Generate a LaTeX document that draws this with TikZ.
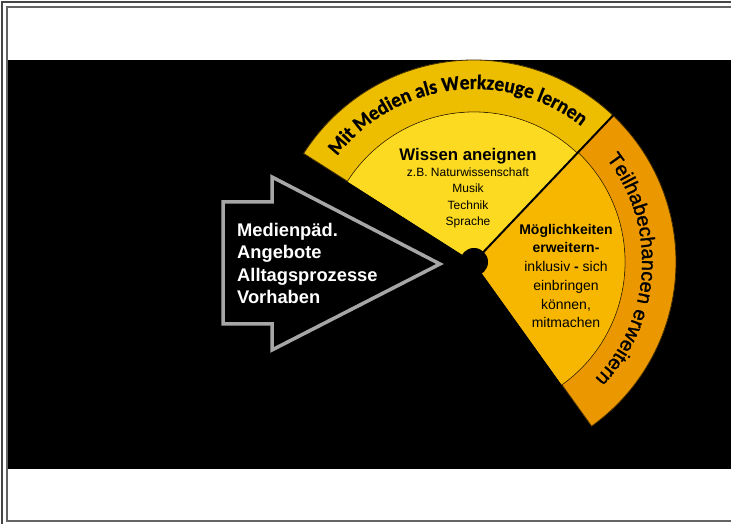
\documentclass[tikz,border=0pt]{standalone}
\usepackage{fontspec}
\newfontfamily\arialf{Liberation Sans}
\newfontfamily\arialheavy[FakeBold=1.2]{Liberation Sans}
\newfontfamily\calibf[FakeStretch=0.95,FakeBold=0.8]{Carlito}
\usetikzlibrary{decorations.text}
\definecolor{ringtop}{RGB}{237,190,0}
\definecolor{innertop}{RGB}{252,218,34}
\definecolor{ringright}{RGB}{235,152,0}
\definecolor{innerright}{RGB}{247,183,0}
\definecolor{ringedge}{RGB}{60,40,0}
\definecolor{arrowgrey}{RGB}{166,166,166}
\definecolor{framedark}{RGB}{70,70,70}
\definecolor{framegrey}{RGB}{100,100,100}
\tikzset{
  arrowtext/.style={font=\arialf\bfseries\fontsize{18.3}{22}\selectfont, text=white, anchor=base west, inner sep=0},
  headtext/.style={font=\arialf\bfseries\fontsize{16.8}{20}\selectfont, anchor=base, inner sep=0},
  smalltext/.style={font=\arialf\fontsize{12}{14}\selectfont, anchor=base, inner sep=0},
  boldmid/.style={font=\arialf\bfseries\fontsize{14}{16}\selectfont, anchor=base, inner sep=0},
  regmid/.style={font=\arialf\fontsize{14}{16}\selectfont, anchor=base, inner sep=0},
  ringline/.style={draw=ringedge, line width=0.8pt}
}
\begin{document}
\begin{tikzpicture}[x=1pt,y=1pt]
\useasboundingbox (0,0) rectangle (731,524);
\clip (0,0) rectangle (731,524);
\fill[white] (0,0) rectangle (731,524);
% frames
\draw[line width=2pt, framedark] (2,-10) -- (2,522) -- (745,522);
\draw[line width=2pt, framegrey] (745,3) -- (7,3) -- (7,517) -- (745,517);
% black band
\fill[black] (8,464) rectangle (735,55);
\coordinate (c) at (474,262);
\begin{scope}[shift={(c)}]
  % top sector
  \fill[innertop] (0,0) -- (147.5:202) arc[start angle=147.5, end angle=46.5, radius=202] -- cycle;
  \path[fill=ringtop, ringline] (147.5:202) arc[start angle=147.5, end angle=46.5, radius=202]
     -- (46.5:150) arc[start angle=46.5, end angle=147.5, radius=150] -- cycle;
  \fill[innertop] (0,0) -- (147.5:149.5) arc[start angle=147.5, end angle=46.5, radius=149.5] -- cycle;
  % right sector
  \fill[innerright] (0,0) -- (46.5:202) arc[start angle=46.5, end angle=-54.4, radius=202] -- cycle;
  \path[fill=ringright, ringline] (46.5:202) arc[start angle=46.5, end angle=-54.4, radius=202]
     -- (-54.4:151) arc[start angle=-54.4, end angle=46.5, radius=151] -- cycle;
  \fill[innerright] (0,0) -- (46.5:150.5) arc[start angle=46.5, end angle=-54.4, radius=150.5] -- cycle;
  % separator
  \draw[black, line width=2pt] (0,0) -- (46.5:203);
  % ring texts
  \path[decorate, decoration={text along path, text align=center,
     text={|\calibf\bfseries\fontsize{20.5}{21}\selectfont|Mit Medien als Werkzeuge lernen}}]
     (150:173) arc[start angle=150, end angle=44, radius=173];
  \path[decorate, decoration={text along path, text align=center,
     text={|\arialheavy\fontsize{20}{20}\selectfont|Teilhabechancen erweitern}}]
     (42:168) arc[start angle=42, end angle=-48, radius=168];
\end{scope}
\fill[black] (c) circle (14);
% arrow
\draw[arrowgrey, line width=3.5pt, fill=black, line join=miter]
  (223,322) -- (272,322) -- (272,347) -- (440,260) -- (272,174) -- (272,200) -- (223,200) -- cycle;
\node[arrowtext] (a1) at (237,287) {Medienpäd.};
\node[arrowtext] (a2) at (237,265) {Angebote};
\node[arrowtext] (a3) at (237,242) {Alltagsprozesse};
\node[arrowtext] (a4) at (237,220) {Vorhaben};
% top inner texts
\node[headtext] (w1) at (468,363) {Wissen aneignen};
\node[smalltext] (w2) at (468,347) {z.B. Naturwissenschaft};
\node[smalltext] (w3) at (468,331) {Musik};
\node[smalltext] (w4) at (468,314) {Technik};
\node[smalltext] (w5) at (468,298) {Sprache};
% right inner texts
\node[boldmid] (m1) at (566,289) {Möglichkeiten};
\node[boldmid] (m2) at (566,271) {erweitern-};
\node[regmid] (m3) at (566,252) {inklusiv \textbf{-} sich};
\node[regmid] (m4) at (566,233) {einbringen};
\node[regmid] (m5) at (566,214) {können,};
\node[regmid] (m6) at (566,196) {mitmachen};
\end{tikzpicture}
\end{document}
